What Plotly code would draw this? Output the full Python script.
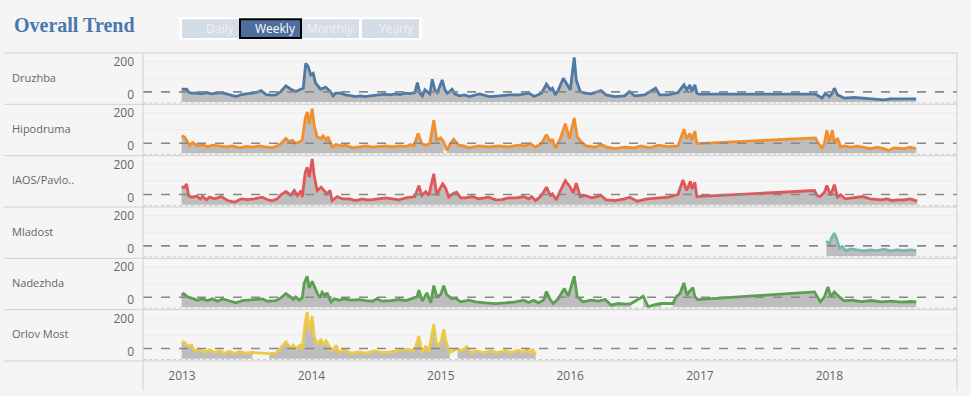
import numpy as np
import pandas as pd
import plotly.graph_objects as go
from plotly.subplots import make_subplots

# ---------------- data (weekly readings, week index from 2012-12-31) ----------------
stations = ["Druzhba", "Hipodruma", "IAOS/Pavlo..", "Mladost", "Nadezhda", "Orlov Most"]
colors = ["#4e79a7", "#f28e2b", "#e15759", "#76b7b2", "#59a14f", "#edc948"]
ref_values = [18, 18, 18, 18, 18, 18]
year_ticks = ["2013", "2014", "2015", "2016", "2017", "2018"]
button_labels = ["Daily", "Weekly", "Monthly", "Yearly"]

druzhba_weeks = [0, 2, 3, 4, 6, 8, 10, 12, 14, 16, 18, 20, 22, 24, 26, 28, 30, 32, 34, 36, 38, 40, 42, 44, 46, 48, 49, 50, 51, 52, 53, 54, 56, 58, 60, 61, 62, 64, 66, 68, 70, 72, 74, 76, 78, 80, 82, 84, 86, 88, 90, 92, 94, 95, 96, 97, 98, 100, 101, 102, 103, 104, 105, 106, 107, 108, 109, 110, 112, 114, 116, 120, 124, 128, 132, 136, 140, 142, 145, 147, 148.6, 149.4, 150.6, 151.8, 153.8, 155, 156.6, 158.2, 159, 160.6, 162.6, 165, 169, 171, 174.5, 178.5, 180.5, 182.5, 186.5, 191, 192.6, 196, 200, 202.4, 203.5, 204.8, 205.6, 206.8, 207.6, 208.5, 255.4, 257, 258, 259.4, 261, 262.2, 263, 264.3, 265.5, 267, 271, 275, 279, 283, 285.5, 291, 296]
druzhba_values = [34, 34, 14, 10, 10, 6, 14, 6, 10, 14, 6, 0, -10, 2, 6, 8, 14, 26, 2, -2, 0, 20, 54, 34, 20, 34, 40, 190, 170, 120, 130, 70, 34, 46, 20, -6, 10, 10, 0, -4, -10, -6, -10, -6, -4, 0, 4, 0, 6, 2, 10, 8, 14, 74, 10, -6, 30, 6, 94, 30, 14, 50, 90, 34, 10, 20, 34, 6, -6, 0, -10, 6, -10, -6, 0, 0, 10, -10, 10, 64, 30, 40, 0, 30, 100, 70, 30, 226, 90, 20, 10, 6, 26, 0, -10, -6, 20, -6, 0, 40, 0, 0, 14, 60, 30, 60, 20, 60, 10, 4, 4, -10, -20, 10, -10, 10, 40, 0, -10, -20, -16, -20, -24, -30, -24, -24, -24]
druzhba_gray_gaps = []

hipodruma_weeks = [0, 1.2, 2.4, 3.2, 4.4, 6.4, 8.4, 10.4, 12.4, 15.3, 18, 20.5, 23.3, 26, 28.5, 31.3, 34, 36.5, 38.6, 40, 42, 43.4, 44.6, 46, 47.4, 48.6, 49.8, 50.6, 51.4, 52.6, 53.4, 54.6, 56.2, 57, 58.2, 59, 60.6, 62.2, 64.2, 66.2, 68.7, 71.5, 74.2, 76.8, 79.5, 82.3, 84.9, 87.6, 90.3, 92.3, 93.6, 95.3, 96.7, 98.3, 100, 101.6, 102.8, 104.4, 105.6, 106.8, 108.4, 109.6, 111.6, 113.6, 115.7, 119.7, 123.7, 127.7, 131.7, 135.7, 138.4, 140.5, 142.5, 145, 147, 148.6, 149.4, 150.6, 152.6, 154.6, 156.2, 158.2, 159.4, 161, 163, 166.5, 169, 171, 174.5, 178.5, 182.5, 185, 188.7, 192, 196, 200, 202.4, 203.5, 204.8, 205.6, 206.8, 207.6, 255.4, 256.6, 258, 259, 260, 261, 262.2, 263, 264.3, 265.5, 267, 269.5, 272.3, 275, 277.5, 280.3, 283, 285, 287, 291, 293.6, 296]
hipodruma_values = [62, 54, 26, 6, 22, 2, 10, -4, 6, 2, -4, 2, -10, -2, -6, 2, -4, -10, 2, 16, 46, 26, 36, 16, 26, 36, 166, 206, 136, 226, 126, 56, 46, 62, 36, 56, -4, 10, 2, 6, -10, -6, 2, -6, -4, 2, -4, 2, -2, 10, 2, 76, 16, 6, 16, 156, 36, 50, 26, -24, 16, 42, 6, 2, -10, 2, -4, 2, -4, 6, 2, 16, -6, 16, 70, 26, 42, -10, 46, 136, 46, 170, 56, 26, 2, -6, 10, -4, -14, -6, -10, 2, -10, 6, -2, 2, 102, 46, 76, 36, 90, 16, 50, 16, -10, 16, 96, 26, 96, 16, 50, -4, 2, -6, 0, -6, -14, -6, -14, -26, -10, -14, -6, -14]
hipodruma_gray_gaps = [105.6]

iaos_weeks = [0, 1.2, 2, 2.8, 4, 6, 7.6, 8.4, 10, 11.2, 13.3, 16, 18.5, 21.3, 24, 26.5, 29.3, 32.5, 34.5, 36.5, 38.5, 40, 42, 44, 45.4, 46.6, 48.2, 48.6, 49.8, 50.6, 51.4, 52.6, 53.4, 54.6, 56.2, 57.4, 58.6, 59.8, 60.6, 62.7, 64.7, 67.5, 70.2, 72.8, 74.8, 76.8, 79.5, 82.3, 84.9, 87.6, 90.3, 92.3, 94, 95.6, 96.8, 98.4, 99.6, 101.6, 102.8, 104, 105.2, 106.4, 107.6, 109.6, 110.8, 112.4, 114.5, 117, 119.7, 123.7, 126.5, 129, 131.7, 135, 137.8, 139.8, 141, 142.6, 145, 147, 148.6, 149.4, 151, 152.6, 154.6, 156.6, 157.8, 159, 160.6, 162.6, 165.2, 169, 171, 174.5, 178.5, 180.5, 183.6, 187.6, 192, 196, 200, 202, 203.5, 205, 205.6, 206.8, 207.6, 255, 256, 257.4, 259, 260, 261.5, 263, 264.3, 265.5, 267.5, 271, 274.3, 277.5, 281.5, 284.3, 286.3, 288.4, 291, 293.6, 296.4]
iaos_values = [62, 62, 82, 12, 2, 8, -8, 6, -14, 2, -8, 6, -18, -28, -8, -12, -8, 2, -12, -20, -8, 16, 36, 14, 42, 12, 42, 2, 152, 182, 122, 232, 132, 42, 62, 42, 22, 42, -18, 6, -8, -8, -18, -8, -14, -12, -8, -2, -8, -14, -2, 2, 6, 72, 12, 36, 12, 142, 14, 52, 82, 56, 2, 26, 32, -2, -2, 6, -8, 2, -14, -12, -2, -2, 6, -8, 6, -18, 12, 62, 12, 22, -14, 42, 102, 62, 28, 86, 6, 12, -2, 12, -14, -18, -8, 2, -22, -8, -2, 2, 18, 106, 42, 98, 52, 92, 6, 42, 12, 6, 32, 72, 12, 78, 2, 16, -8, -2, 6, -8, -14, -8, -18, -14, -14, -8, -22]
iaos_gray_gaps = []

mladost_weeks = [259.8, 261, 261.8, 263, 263.9, 265, 266.3, 267.5, 269.5, 272.3, 275, 277.5, 280.3, 283, 285.5, 288.4, 291, 293.6, 296]
mladost_values = [48, 24, 64, 94, 64, 4, 14, -12, 0, -6, -12, -6, -10, -2, -12, -6, -10, -6, -10]
mladost_gray_gaps = []

nadezhda_weeks = [0, 0.8, 2.4, 4.4, 6.4, 8.4, 10.4, 12.4, 14.5, 16.5, 19.3, 22, 24.5, 27.3, 30, 32.5, 34.5, 38, 40, 42, 43.8, 45, 46, 47.4, 48.6, 49.4, 50.6, 51.4, 52.6, 53.8, 54.6, 55.8, 56.6, 57.8, 58.6, 60.2, 61.4, 63.5, 65.5, 68.3, 71.5, 74.3, 76.8, 78.7, 80.7, 84.3, 87.6, 90.4, 92.8, 94.8, 95.6, 97, 98.8, 100.4, 101.6, 102.8, 104.4, 105.6, 106.8, 108.8, 110.4, 112.4, 115.7, 118.5, 122.5, 126.5, 130.5, 134.5, 137.8, 139.8, 141.8, 143.8, 145.8, 147, 148.6, 149.8, 151.8, 154.2, 155.8, 158.2, 159.4, 161.8, 165, 167.9, 170.7, 173.1, 175.9, 178.7, 181.1, 186, 188, 190.8, 193.2, 198, 199.2, 200.8, 202.4, 203.6, 204.8, 206, 206.8, 208, 255, 256.2, 257.4, 259, 260.4, 261.6, 263, 265, 267, 270, 274, 278, 282, 286, 290, 294, 296]
nadezhda_values = [28, 40, 20, 8, 0, 8, -2, 8, -6, 8, -2, -16, -2, 0, 4, 8, -6, -2, 14, 40, 20, 4, 20, 0, 14, 104, 144, 74, 114, 64, 44, 14, 48, 28, 44, -12, 8, 0, 8, 0, 4, -2, -6, 8, -6, -2, 4, -2, 8, 20, 60, -6, 44, -16, 88, 20, 34, 88, 34, 8, 12, -10, 0, -10, -16, -20, -16, -10, 0, -14, 0, -16, 0, 52, 0, -20, 10, 70, 24, 144, 20, -10, 0, -6, 4, -30, -20, -24, -20, 24, -40, -26, -20, -20, 20, 40, 104, 30, 56, 76, 20, 4, 50, 20, -10, 20, 80, 20, 50, 20, -4, 0, -8, -2, -10, -6, -12, -8, -10]
nadezhda_gray_gaps = [181.1, 193.2]

orlov_weeks = [0, 1.2, 2.4, 4, 5.2, 7.2, 9.2, 11.2, 13.3, 15.3, 17.3, 19.3, 21.3, 23.3, 25.3, 28.5, 35.3, 38, 40, 42, 43.8, 45, 46, 47.8, 48.6, 49.8, 50.6, 51.4, 52.6, 53.4, 54.6, 56.2, 57, 58.2, 59.4, 60.6, 62.2, 63.5, 65.5, 68.3, 71.5, 74.3, 77.5, 80.7, 84.3, 87.6, 90.8, 93.6, 94.4, 95.6, 96.8, 98.4, 99.6, 101.6, 102.8, 104.4, 105.6, 106.8, 108, 111.2, 112.9, 114.9, 116.5, 118.9, 121.7, 124.5, 126.9, 130.5, 132.9, 135.7, 137.8, 139, 140.6, 141.4, 142.6]
orlov_values = [58, 54, 34, 38, 4, 14, -2, 10, -6, 4, -10, 2, -12, 0, -10, -6, -12, -10, 24, 58, 24, 38, 18, 38, 14, 174, 238, 114, 214, 94, 44, 74, 38, 64, 34, -2, 38, -6, 10, -10, -2, -10, 4, -6, -2, 4, 14, 4, 34, 94, -6, 34, -2, 164, 34, 54, 134, 44, -6, 18, 4, 30, -6, 4, -6, 4, -6, 4, -6, 8, -6, 14, -6, 14, -22]
orlov_gray_gaps = [28.5, 108]

all_weeks = [druzhba_weeks, hipodruma_weeks, iaos_weeks, mladost_weeks, nadezhda_weeks, orlov_weeks]
all_values = [druzhba_values, hipodruma_values, iaos_values, mladost_values, nadezhda_values, orlov_values]
all_gaps = [druzhba_gray_gaps, hipodruma_gray_gaps, iaos_gray_gaps, mladost_gray_gaps, nadezhda_gray_gaps, orlov_gray_gaps]

# ---------------- layout geometry ----------------
W, H = 971, 396
L, R, T, B = 143, 14, 53, 33
PW, PH = W - L - R, H - T - B
START = pd.Timestamp("2012-12-31")
BASE = -43
Y_RANGE = [-57, 252]


def px(x):
    return (x - L) / PW


def py(y):
    return 1 - (y - T) / PH


def to_dates(weeks):
    return [START + pd.Timedelta(days=float(w) * 7) for w in weeks]


fig = make_subplots(rows=6, cols=1, shared_xaxes=True, vertical_spacing=0)

for r, (name, col, wk, vals, gaps, ref) in enumerate(
        zip(stations, colors, all_weeks, all_values, all_gaps, ref_values), start=1):
    # gray area segments
    segs, cur = [], []
    for w, v in zip(wk, vals):
        cur.append((w, v))
        if any(abs(w - g) < 1e-6 for g in gaps):
            segs.append(cur)
            cur = []
    if cur:
        segs.append(cur)
    for seg in segs:
        sw = [p[0] for p in seg]
        sv = [p[1] for p in seg]
        d = to_dates(sw)
        fig.add_trace(go.Scatter(x=d + d[::-1], y=sv + [BASE] * len(sv), fill="toself",
                                 fillcolor="#bdbdbd", line=dict(width=0), mode="lines",
                                 hoverinfo="skip", showlegend=False), row=r, col=1)
    # faint grid lines
    for gv in (100, 200):
        fig.add_hline(y=gv, line=dict(color="#ebebeb", width=1), layer="below", row=r, col=1)
    # bottom dotted line
    fig.add_hline(y=-48, line=dict(color="#cccccc", width=1, dash="dot"), row=r, col=1)
    # reference line
    fig.add_hline(y=ref, line=dict(color="#888888", width=1.6, dash="dash"), row=r, col=1)
    # series line
    fig.add_trace(go.Scatter(x=to_dates(wk), y=vals, mode="lines",
                             line=dict(color=col, width=2.8), showlegend=False,
                             name=name), row=r, col=1)
    fig.update_yaxes(row=r, col=1, range=Y_RANGE, tickvals=[0, 200], ticktext=["0", "200"],
                     showgrid=False, zeroline=False, showline=False,
                     tickfont=dict(size=12, color="#666666"), ticklabelstandoff=8,
                     fixedrange=True)
    # station label
    top = T + (r - 1) * PH / 6
    fig.add_annotation(x=px(10), y=py(top + PH / 12 - 1.5), xref="paper", yref="paper",
                       text=name, showarrow=False, xanchor="left", yanchor="middle",
                       font=dict(size=11, color="#666666"))

fig.update_xaxes(type="date", range=["2012-09-13", "2018-12-27"], showgrid=False,
                 zeroline=False, showline=False)
fig.update_xaxes(row=6, col=1,
                 tickvals=[f"{y}-01-01" for y in year_ticks], ticktext=year_ticks,
                 tickfont=dict(size=12, color="#666666"), ticklabelstandoff=6)

# frame / separators
shapes = []
for k in range(7):
    yk = T + k * PH / 6
    shapes.append(dict(type="line", xref="paper", yref="paper", x0=px(4), x1=px(957),
                       y0=py(yk), y1=py(yk), line=dict(color="#d0d0d0", width=1)))
for xv in (143, 957):
    shapes.append(dict(type="line", xref="paper", yref="paper", x0=px(xv), x1=px(xv),
                       y0=py(53), y1=py(393), line=dict(color="#d0d0d0", width=1)))

# buttons
btn_boxes = [(182, 239), (240, 301), (302, 359), (362, 419)]
shapes.append(dict(type="rect", xref="paper", yref="paper", x0=px(180), x1=px(421),
                   y0=py(17.5), y1=py(39), line=dict(color="#ffffff", width=1),
                   fillcolor="#ffffff"))
annos = []
for lab, (x0, x1) in zip(button_labels, btn_boxes):
    sel = lab == "Weekly"
    shapes.append(dict(type="rect", xref="paper", yref="paper", x0=px(x0), x1=px(x1),
                       y0=py(19), y1=py(38),
                       fillcolor="#4e6f9d" if sel else "#d4dce5",
                       line=dict(color="#000000" if sel else "#d4dce5", width=2 if sel else 0)))
    annos.append(dict(x=px(x1 - 3), y=py(28.5), xref="paper", yref="paper", text=lab,
                      showarrow=False, xanchor="right", yanchor="middle",
                      font=dict(size=12, color="#ffffff" if sel else "#eef1f5")))

annos.append(dict(x=px(12), y=py(25), xref="paper", yref="paper",
                  text="<b>Overall Trend</b>", showarrow=False, xanchor="left",
                  yanchor="middle",
                  font=dict(family="Liberation Serif", size=20, color="#4a77ae")))
for a in annos:
    fig.add_annotation(**a)

fig.update_layout(width=W, height=H, margin=dict(l=L, r=R, t=T, b=B),
                  paper_bgcolor="#f5f5f5", plot_bgcolor="#f5f5f5",
                  font=dict(family="Open Sans", color="#666666"),
                  shapes=list(fig.layout.shapes) + shapes, showlegend=False)

fig.write_html("out.html", config={"displayModeBar": False},
               post_script="document.body.style.margin='0';document.body.style.overflow='hidden';")
